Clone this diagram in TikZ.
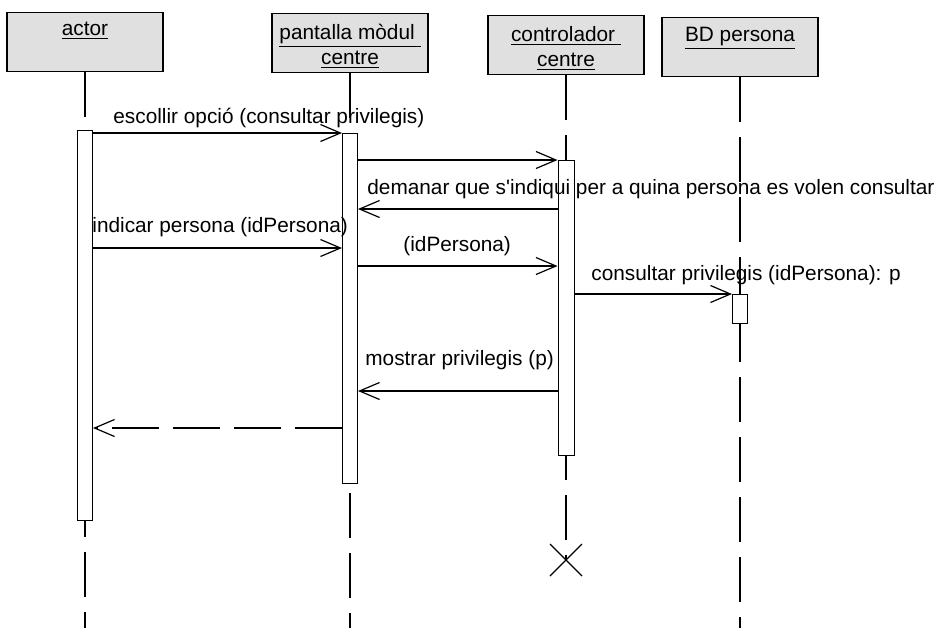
\documentclass[tikz,border=0pt]{standalone}
\usepackage{fontspec}
\setmainfont{Liberation Sans}[Ligatures=TeXOff]
\usetikzlibrary{arrows.meta}

\begin{document}
\begin{tikzpicture}[x=0.5pt, y=-0.5pt, font=\fontsize{10.4}{12.5}\selectfont,
    capsal/.style={draw, line width=0.8pt, fill=black!12, minimum width=78pt, minimum height=29.5pt, inner sep=0pt},
    titol/.style={anchor=north, inner sep=0pt, align=center},
    vida/.style={line width=0.6pt, dash pattern=on 22.5pt off 7.5pt},
    activ/.style={draw, line width=0.5pt, fill=white, minimum width=7.5pt, inner sep=0pt},
    msg/.style={line width=0.6pt, -{Straight Barb[length=10pt, width=8.5pt, line width=0.6pt]}},
    retorn/.style={msg, dash pattern=on 23.5pt off 7pt},
    etiq/.style={anchor=base west, inner sep=0pt}]
    % === fons i marges ===
    \fill[white] (0,0) rectangle (940,628);
    \useasboundingbox (0,0) rectangle (940,628);

    % === capsaleres dels objectes ===
    \node[capsal] (hActor) at (85,42) {};
    \node[capsal] (hPant) at (350,43) {};
    \node[capsal] (hCtrl) at (566,45) {};
    \node[capsal] (hBD) at (740,47) {};
    \node[titol] (tActor) at ([yshift=-5pt]hActor.north) {\underline{actor}};
    \node[titol] (tPant) at ([yshift=-5.5pt]hPant.north) {\underline{pantalla mòdul\ }\\\underline{centre}};
    \node[titol] (tCtrl) at ([yshift=-5.5pt]hCtrl.north) {\underline{controlador\ }\\\underline{centre}};
    \node[titol] (tBD) at ([yshift=-5pt]hBD.north) {\underline{BD persona}};

    % === linies de vida ===
    \coordinate (fActor) at (85,628);
    \coordinate (fPant) at (350,628);
    \coordinate (fBD) at (740,628);
    \coordinate (fi) at (566,560);
    \draw[vida] (hActor.south) -- (fActor);
    \draw[vida] (hPant.south) -- (fPant);
    \draw[vida] (hCtrl.south) -- (fi);
    \draw[vida] (hBD.south) -- (fBD);

    % destruccio del controlador
    \draw[line width=0.6pt] (fi) +(-16,-16) -- +(16,16) (fi) +(-16,16) -- +(16,-16);

    % === activacions ===
    \node[activ, minimum height=195pt] (aActor) at (85,325) {};
    \node[activ, minimum height=175pt] (aPant) at (350,308) {};
    \node[activ, minimum width=8pt, minimum height=147.5pt] (aCtrl) at (566,307.5) {};
    \node[activ, minimum height=14.5pt] (aBD) at (740,308.5) {};

    % === missatges ===
    \coordinate (y1) at (0,133);
    \coordinate (y2) at (0,160);
    \coordinate (y3) at (0,209);
    \coordinate (y4) at (0,248);
    \coordinate (y5) at (0,266);
    \coordinate (y6) at (0,294);
    \coordinate (y7) at (0,391);
    \coordinate (y8) at (0,428);
    \draw[msg] (aActor.east |- y1) -- (aPant.west |- y1);
    \draw[msg] (aPant.east |- y2) -- (aCtrl.west |- y2);
    \draw[msg] (aCtrl.west |- y3) -- (aPant.east |- y3);
    \draw[msg] (aActor.east |- y4) -- (aPant.west |- y4);
    \draw[msg] (aPant.east |- y5) -- (aCtrl.west |- y5);
    \draw[msg] (aCtrl.east |- y6) -- (aBD.west |- y6);
    \draw[msg] (aCtrl.west |- y7) -- (aPant.east |- y7);
    \draw[retorn] (aPant.west |- y8) -- (aActor.east |- y8);

    \node[etiq] (e1) at (113,123) {escollir opció (consultar privilegis)};
    \node[etiq] (e3) at (367,194) {demanar que s'indiqui per a quina persona es volen consultar};
    \node[etiq] (e4) at (92,232) {indicar persona (idPersona)};
    \node[etiq] (e5) at (403,251) {(idPersona)};
    \node[etiq] (e6) at (591,280) {consultar privilegis (idPersona): p};
    \node[etiq] (e7) at (365,365) {mostrar privilegis (p)};
\end{tikzpicture}
\end{document}
